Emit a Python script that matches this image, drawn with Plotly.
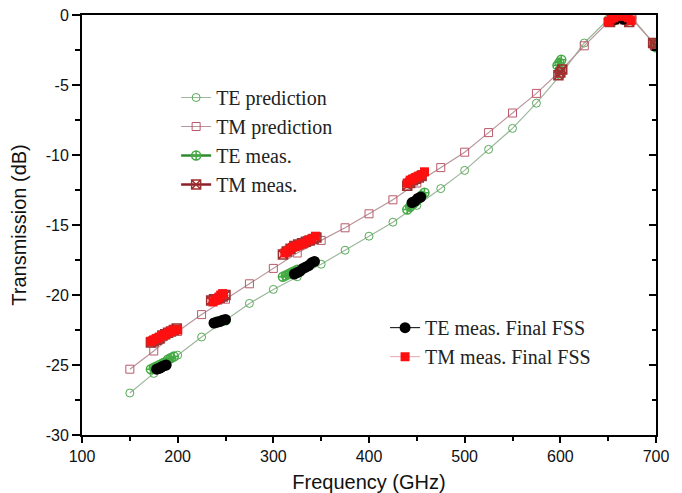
import plotly.graph_objects as go

# ---------------- data ----------------
pred_freq = [150, 175, 200, 225, 250, 275, 300, 325, 350, 375, 400, 425, 450,
             475, 500, 525, 550, 575, 600, 625, 650, 675, 700]
te_pred = [-27.0, -25.6, -24.3, -23.0, -21.8, -20.6, -19.6, -18.7, -17.8, -16.8,
           -15.8, -14.8, -13.6, -12.4, -11.1, -9.6, -8.1, -6.3, -4.3, -2.0,
           -0.3, -0.2, -2.2]
tm_pred = [-25.3, -24.0, -22.6, -21.4, -20.3, -19.2, -18.1, -17.0, -16.1, -15.2,
           -14.2, -13.2, -12.0, -10.9, -9.8, -8.4, -7.0, -5.6, -4.0, -2.2,
           -0.5, -0.3, -2.2]

te_meas_f = [172, 175, 178, 181, 184, 187, 190, 193, 196, None,
             238, 241, 244, 247, 250, None,
             310, 313, 316, 319, 322, 325, None,
             440, 443, 446, 449, 452, 455, 458, None,
             597, 599, 601, None,
             655, 660, 665, 670, None,
             697, 699, 700]
te_meas_db = [-25.3, -25.2, -25.1, -25.0, -24.9, -24.8, -24.6, -24.5, -24.4, None,
              -22.0, -21.9, -21.9, -21.8, -21.8, None,
              -18.7, -18.6, -18.5, -18.4, -18.3, -18.2, None,
              -13.9, -13.7, -13.5, -13.3, -13.1, -12.9, -12.7, None,
              -3.6, -3.4, -3.2, None,
              -0.4, -0.2, -0.2, -0.4, None,
              -2.0, -2.1, -2.3]

tm_meas_f = [172, 175, 178, 181, 184, 187, 190, 193, 196, 199, None,
             235, 238, 241, 244, 247, 250, None,
             310, 314, 318, 322, 326, 330, 334, 338, 342, 345, None,
             440, 443, 446, 449, 452, 455, None,
             598, 600, 602, None,
             652, 656, 660, 664, 668, 672, None,
             697, 699, 700]
tm_meas_db = [-23.4, -23.3, -23.2, -23.1, -22.9, -22.8, -22.7, -22.6, -22.5, -22.4, None,
              -20.4, -20.3, -20.3, -20.2, -20.1, -20.0, None,
              -17.1, -16.9, -16.7, -16.5, -16.4, -16.3, -16.2, -16.1, -16.0, -15.9, None,
              -12.2, -12.0, -11.8, -11.7, -11.6, -11.5, None,
              -4.3, -4.1, -3.9, None,
              -0.5, -0.3, -0.2, -0.2, -0.3, -0.5, None,
              -2.0, -2.1, -2.2]

te_final_f = [178, 180, 182, 184, 186, 188, None,
              238, 241, 244, 247, 250, None,
              322, 325, 328, 331, 334, 337, 340, 343, None,
              445, 448, 451, 454, None,
              658, 662, 666]
te_final_db = [-25.3, -25.25, -25.2, -25.1, -25.05, -25.0, None,
               -22.0, -21.95, -21.9, -21.8, -21.75, None,
               -18.5, -18.4, -18.3, -18.1, -18.0, -17.9, -17.7, -17.6, None,
               -13.4, -13.3, -13.1, -13.0, None,
               -0.3, -0.2, -0.3]

tm_final_f = [172, 175, 178, 181, 184, 187, 190, 193, 196, 200, None,
              237, 239, 241, 243, 245, 247, None,
              312, 316, 320, 324, 328, 332, 336, 340, 344, None,
              440, 443, 446, 449, 452, 455, 458, None,
              650, 653, 656, 659, 662, 665, 668, 671, 674]
tm_final_db = [-23.3, -23.2, -23.1, -23.0, -22.9, -22.8, -22.7, -22.6, -22.5, -22.5, None,
               -20.5, -20.4, -20.3, -20.2, -20.0, -19.9, None,
               -17.0, -16.8, -16.6, -16.5, -16.4, -16.3, -16.1, -16.0, -15.8, None,
               -12.0, -11.8, -11.7, -11.6, -11.5, -11.4, -11.2, None,
               -0.5, -0.3, -0.2, -0.1, 0.0, 0.0, -0.1, -0.2, -0.4]

x_ticks = [100, 200, 300, 400, 500, 600, 700]
x_tick_text = ["100", "200", "300", "400", "500", "600", "700"]
y_ticks = [0, -5, -10, -15, -20, -25, -30]
y_tick_text = ["0", "-5", "-10", "-15", "-20", "-25", "-30"]

# ---------------- figure ----------------
fig = go.Figure()

fig.add_trace(go.Scatter(
    x=pred_freq, y=te_pred, name="TE prediction", mode="lines+markers",
    line=dict(color="#9db89d", width=1.2),
    marker=dict(symbol="circle-open", size=8, color="#55aa55", line=dict(width=1)),
    legend="legend"))
fig.add_trace(go.Scatter(
    x=pred_freq, y=tm_pred, name="TM prediction", mode="lines+markers",
    line=dict(color="#b8959b", width=1.2),
    marker=dict(symbol="square-open", size=8, color="#b85a6a", line=dict(width=1)),
    legend="legend"))
fig.add_trace(go.Scatter(
    x=te_meas_f, y=te_meas_db, name="TE meas.", mode="lines+markers",
    line=dict(color="#2e8b2e", width=2.5),
    marker=dict(symbol="circle-cross-open", size=9, color="#44aa44", line=dict(width=1.5)),
    legend="legend"))
fig.add_trace(go.Scatter(
    x=tm_meas_f, y=tm_meas_db, name="TM meas.", mode="lines+markers",
    line=dict(color="#8b1f2a", width=2.5),
    marker=dict(symbol="square-x-open", size=9, color="#a03030", line=dict(width=1.5)),
    legend="legend"))
fig.add_trace(go.Scatter(
    x=te_final_f, y=te_final_db, name="TE meas. Final FSS", mode="lines+markers",
    line=dict(color="#000000", width=1),
    marker=dict(symbol="circle", size=11, color="#000000"),
    legend="legend2"))
fig.add_trace(go.Scatter(
    x=tm_final_f, y=tm_final_db, name="TM meas. Final FSS", mode="lines+markers",
    line=dict(color="#e8a8b0", width=1),
    marker=dict(symbol="square", size=9, color="#ff1010"),
    legend="legend2"))

# dummy invisible trace to carry the right-hand axis
fig.add_trace(go.Scatter(x=[None], y=[None], yaxis="y2", showlegend=False,
                         hoverinfo="skip"))

legend_font = dict(family="Liberation Serif, Times New Roman, serif", size=20, color="#222")

# the page body has an 8px margin, so the figure is drawn 8px in from the top-left
fig.update_layout(
    width=674, height=485,
    margin=dict(l=74, r=26, t=7, b=58),
    paper_bgcolor="white", plot_bgcolor="white",
    font=dict(family="Liberation Sans, Arial, sans-serif", size=16, color="#111"),
    xaxis=dict(
        range=[100, 700], tickvals=x_ticks, ticktext=x_tick_text,
        ticks="outside", ticklen=6, tickwidth=1.5, tickcolor="black",
        minor=dict(dtick=50, tick0=100, ticks="outside", ticklen=4, tickcolor="black", tickwidth=1.5),
        showline=True, linecolor="black", linewidth=2, mirror=True,
        showgrid=False, zeroline=False, automargin=False,
        ticklabeloverflow="allow",
        title=dict(text="Frequency (GHz)", font=dict(size=20)),
        tickfont=dict(size=16),
    ),
    yaxis=dict(
        range=[-30, 0], tickvals=y_ticks, ticktext=y_tick_text,
        ticks="outside", ticklen=8, tickwidth=1.5, tickcolor="black",
        minor=dict(dtick=2.5, tick0=0, ticks="outside", ticklen=5, tickcolor="black", tickwidth=1.5),
        showline=True, linecolor="black", linewidth=2, mirror=True,
        showgrid=False, zeroline=False, automargin=False,
        ticklabeloverflow="allow",
        title=dict(text="Transmission (dB)", font=dict(size=20)),
        tickfont=dict(size=16),
    ),
    yaxis2=dict(
        range=[-30, 0], overlaying="y", side="right", anchor="x",
        tickvals=y_ticks, showticklabels=False,
        ticks="inside", ticklen=7, tickwidth=1.5, tickcolor="black",
        minor=dict(dtick=2.5, tick0=0, ticks="inside", ticklen=4, tickcolor="black", tickwidth=1.5),
        showline=True, linecolor="black", linewidth=2,
        showgrid=False, zeroline=False, automargin=False,
    ),
    legend=dict(
        x=0.164, y=0.85, xanchor="left", yanchor="top",
        bgcolor="rgba(0,0,0,0)", font=legend_font, tracegroupgap=0,
    ),
    legend2=dict(
        x=0.528, y=0.302, xanchor="left", yanchor="top",
        bgcolor="rgba(0,0,0,0)", font=legend_font,
    ),
    showlegend=True,
)

fig.write_html("out.html")
